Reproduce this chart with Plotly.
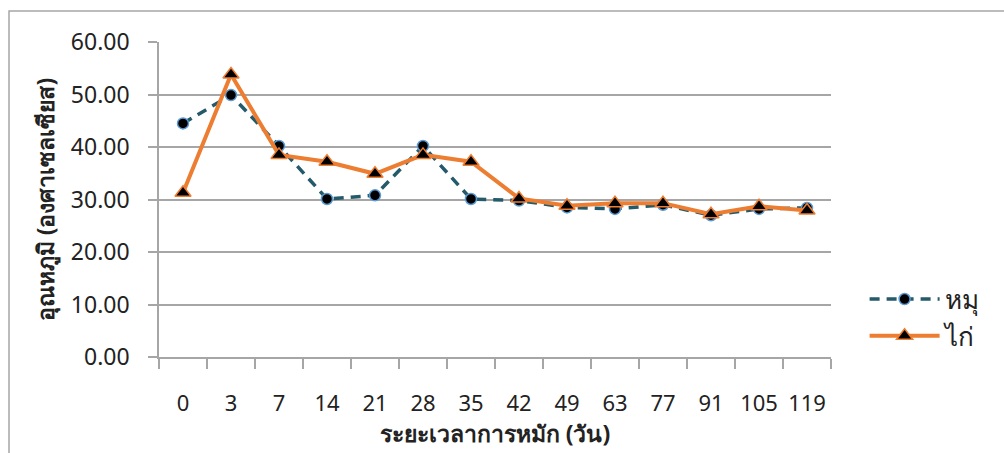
import plotly.graph_objects as go

# Composting time (days) and temperature readings (°C)
days = ["0", "3", "7", "14", "21", "28", "35", "42", "49", "63", "77", "91", "105", "119"]
pig_temp = [44.5, 49.9, 40.2, 30.1, 30.8, 40.2, 30.1, 29.8, 28.5, 28.2, 29.0, 27.0, 28.2, 28.4]
chicken_temp = [31.3, 53.8, 38.5, 37.2, 34.9, 38.5, 37.2, 30.2, 28.8, 29.3, 29.3, 27.2, 28.7, 27.9]
series_names = ["หมุ", "ไก่"]
y_ticks = [0, 10, 20, 30, 40, 50, 60]

FONT = "Noto Sans, Tahoma, sans-serif"
GRID = "#a6a6a6"

fig = go.Figure()
fig.add_trace(go.Scatter(
    x=days, y=pig_temp, name=series_names[0], mode="lines+markers",
    line=dict(color="#245a69", width=3.5, dash="10px,7px"),
    marker=dict(symbol="circle", size=11, color="black",
                line=dict(color="#5b9bd5", width=1.5)),
))
fig.add_trace(go.Scatter(
    x=days, y=chicken_temp, name=series_names[1], mode="lines+markers",
    line=dict(color="#ed7d31", width=4),
    marker=dict(symbol="triangle-up", size=14, color="black",
                line=dict(color="#ed7d31", width=1.5)),
))

# outer chart frame
fig.add_shape(type="rect", xref="paper", yref="paper",
              x0=-0.2232, x1=1.3, y0=-0.35, y1=1.0984,
              line=dict(color=GRID, width=1.5), fillcolor="rgba(0,0,0,0)",
              layer="below")

fig.update_layout(
    width=1004, height=453,
    margin=dict(l=159, r=173, t=42, b=96),
    paper_bgcolor="white", plot_bgcolor="white",
    font=dict(family=FONT, size=22, color="#222222"),
    showlegend=True,
    legend=dict(x=1.05, y=0.125, xanchor="left", yanchor="middle",
                font=dict(size=26), itemwidth=70, tracegroupgap=0,
                bgcolor="rgba(0,0,0,0)"),
    xaxis=dict(
        type="category", range=[-0.5, 13.5], tickangle=0,
        tickson="boundaries", ticks="outside", ticklen=10,
        tickcolor=GRID, tickwidth=1.5, showgrid=False,
        showline=True, linecolor=GRID, linewidth=1.5,
        tickfont=dict(size=22), ticklabelstandoff=26,
        title=dict(text="<b>ระยะเวลาการหมัก (วัน)</b>", font=dict(size=23), standoff=4),
    ),
    yaxis=dict(
        range=[0, 60], tickvals=y_ticks, tickformat=".2f",
        ticks="outside", ticklen=9, tickcolor=GRID, tickwidth=1.5,
        showgrid=True, gridcolor=GRID, gridwidth=1.5,
        showline=True, linecolor=GRID, linewidth=1.5, zeroline=False,
        tickfont=dict(size=23), ticklabelstandoff=14,
        title=dict(text="<b>อุณหภูมิ (องศาเซลเซียส)</b>", font=dict(size=23), standoff=10),
    ),
)

fig.write_html("out.html")
